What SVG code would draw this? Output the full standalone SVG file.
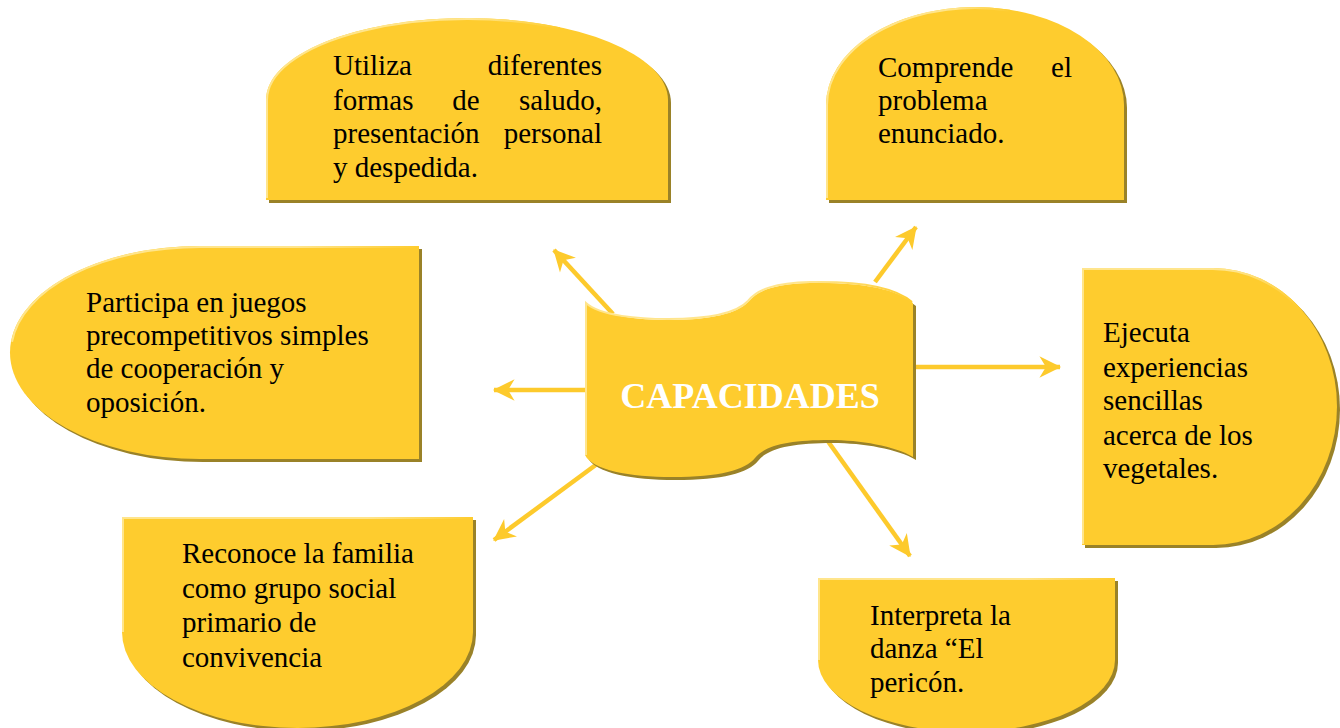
<svg xmlns="http://www.w3.org/2000/svg" width="1340" height="728" viewBox="0 0 1340 728">
<style>
.sh{fill:#9a8228}
.bx{fill:#FECC2E}
.hl{fill:none;stroke:url(#hg);stroke-width:2}
.t{font-family:"Liberation Serif","Times New Roman",serif;font-size:29px;fill:#000}
.ct{font-family:"Liberation Serif","Times New Roman",serif;font-size:36px;font-weight:bold;fill:#fff}
.ar{stroke:#FDCA2C;stroke-width:4.5;fill:none;marker-end:url(#ah)}
</style>
<defs>
<linearGradient id="hg" x1="0" y1="0" x2="1" y2="0">
<stop offset="0" stop-color="#FFE58C"/>
<stop offset="0.7" stop-color="#FFE58C"/>
<stop offset="1" stop-color="#FECC2E"/>
</linearGradient>
<marker id="ah" markerUnits="userSpaceOnUse" markerWidth="26" markerHeight="26" viewBox="-22 -12 24 24" refX="0" refY="0" orient="auto">
<path d="M1,0 L-19,-10 L-13,0 L-19,10 Z" fill="#FDCA2C"/>
</marker>
</defs>
<rect width="1340" height="728" fill="#fff"/>
<g id="connectors">
<line class="ar" x1="613" y1="314" x2="554" y2="250"/>
<line class="ar" x1="875" y1="282" x2="916" y2="227"/>
<line class="ar" x1="913" y1="367" x2="1060" y2="367"/>
<line class="ar" x1="587" y1="390" x2="494" y2="390"/>
<line class="ar" x1="597" y1="464" x2="494" y2="540"/>
<line class="ar" x1="827" y1="440" x2="910" y2="556"/>
</g>
<g id="n1">
<path class="sh" transform="translate(3,3)" d="M266,200 L266,100 A201,82 0 0 1 668,100 L668,200 Z"/>
<path class="bx" d="M266,200 L266,100 A201,82 0 0 1 668,100 L668,200 Z"/>
<path class="hl" d="M267,198 L267,100 A200,81 0 0 1 560,28.3"/>
<text class="t" x="333" y="75">Utiliza</text>
<text class="t" x="602" y="75" text-anchor="end">diferentes</text>
<text class="t" x="333" y="110">formas</text>
<text class="t" x="466" y="110" text-anchor="middle">de</text>
<text class="t" x="602" y="110" text-anchor="end">saludo,</text>
<text class="t" x="333" y="143">presentación</text>
<text class="t" x="602" y="143" text-anchor="end">personal</text>
<text class="t" x="333" y="177">y despedida.</text>
</g>
<g id="n2">
<path class="sh" transform="translate(3,3)" d="M826,200 L826,105 A149,98 0 0 1 1124,105 L1124,200 Z"/>
<path class="bx" d="M826,200 L826,105 A149,98 0 0 1 1124,105 L1124,200 Z"/>
<path class="hl" d="M827,198 L827,105 A148,97 0 0 1 1010,10.8"/>
<text class="t" x="878" y="77">Comprende</text>
<text class="t" x="1072" y="77" text-anchor="end">el</text>
<text class="t" x="878" y="110">problema</text>
<text class="t" x="878" y="143">enunciado.</text>
</g>
<g id="n3">
<path class="sh" transform="translate(3,3)" d="M419,246 L200,246 A190,106.5 0 0 0 200,459 L419,459 Z"/>
<path class="bx" d="M419,246 L200,246 A190,106.5 0 0 0 200,459 L419,459 Z"/>
<path class="hl" d="M12,341.7 A189,105.5 0 0 1 200,247 L418,247"/>
<text class="t" x="86" y="312">Participa en juegos</text>
<text class="t" x="86" y="345">precompetitivos simples</text>
<text class="t" x="86" y="378">de cooperación y</text>
<text class="t" x="86" y="412">oposición.</text>
</g>
<g id="n4">
<path class="sh" transform="translate(3,3)" d="M1082,268 L1213,268 A124,138.5 0 0 1 1213,545 L1082,545 Z"/>
<path class="bx" d="M1082,268 L1213,268 A124,138.5 0 0 1 1213,545 L1082,545 Z"/>
<path class="hl" d="M1083,544 L1083,269 L1213,269 A123,137.5 0 0 1 1300,309.3"/>
<text class="t" x="1103" y="342">Ejecuta</text>
<text class="t" x="1103" y="377">experiencias</text>
<text class="t" x="1103" y="410">sencillas</text>
<text class="t" x="1103" y="445">acerca de los</text>
<text class="t" x="1103" y="478">vegetales.</text>
</g>
<g id="n5">
<path class="sh" transform="translate(3,3)" d="M122,517 L473,517 L473,632 A175.5,96 0 0 1 122,632 Z"/>
<path class="bx" d="M122,517 L473,517 L473,632 A175.5,96 0 0 1 122,632 Z"/>
<path class="hl" d="M123,632 L123,518 L472,518"/>
<text class="t" x="182" y="563">Reconoce la familia</text>
<text class="t" x="182" y="598">como grupo social</text>
<text class="t" x="182" y="632">primario de</text>
<text class="t" x="182" y="667">convivencia</text>
</g>
<g id="n6">
<path class="sh" transform="translate(3,3)" d="M818,578 L1115,578 L1115,660 A148.5,72 0 0 1 818,660 Z"/>
<path class="bx" d="M818,578 L1115,578 L1115,660 A148.5,72 0 0 1 818,660 Z"/>
<path class="hl" d="M819,660 L819,579 L1114,579"/>
<text class="t" x="870" y="625">Interpreta la</text>
<text class="t" x="870" y="658">danza “El</text>
<text class="t" x="870" y="692">pericón.</text>
</g>
<g id="center">
<path class="sh" transform="translate(3,3)" d="M585,302 C600,316 640,320 668,320 C700,320 735,316 748,302 C758,290 775,284 810,283 C860,282 895,288 913,303 L913,457 C895,446 860,440 830,440 C790,440 765,445 755,458 C745,470 720,477 672,477 C630,477 592,470 585,455 Z"/>
<path class="bx" d="M585,302 C600,316 640,320 668,320 C700,320 735,316 748,302 C758,290 775,284 810,283 C860,282 895,288 913,303 L913,457 C895,446 860,440 830,440 C790,440 765,445 755,458 C745,470 720,477 672,477 C630,477 592,470 585,455 Z"/>
<path class="hl" d="M586,455 L586,303 C600,316 640,319 668,319 C700,319 735,315 748,301 C758,289 775,283 810,282 C860,281 895,287 912,302"/>
<text class="ct" x="750" y="408" text-anchor="middle">CAPACIDADES</text>
</g>
</svg>
